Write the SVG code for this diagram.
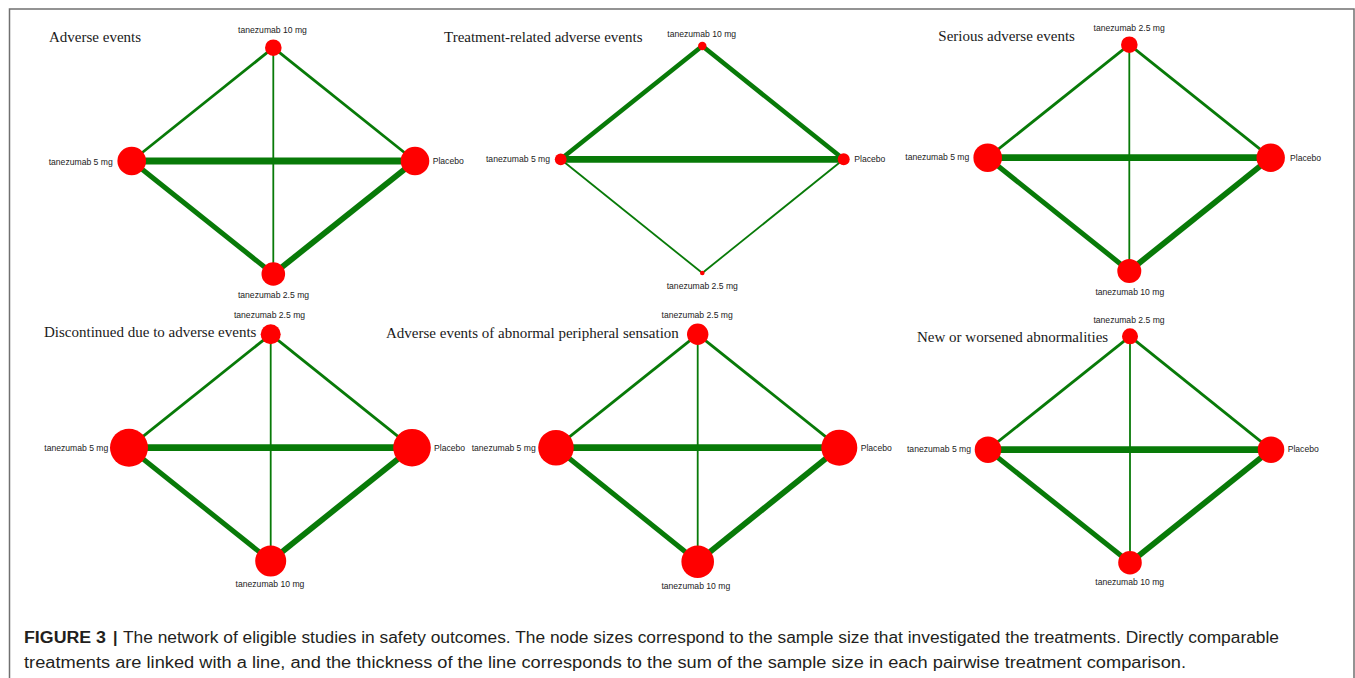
<svg xmlns="http://www.w3.org/2000/svg" width="1355" height="678" viewBox="0 0 1355 678">
<style>
.frame{fill:none;stroke:#707070;stroke-width:1.5}
.e{stroke:#087a08;fill:none;stroke-linecap:butt}
.w1{stroke-width:1.8}
.w2{stroke-width:2.8}
.w4{stroke-width:4.6}
.w5{stroke-width:5}
.w55{stroke-width:5.8}
.w6{stroke-width:6.8}
.n{fill:#ff0000}
.l{font-family:"Liberation Sans",Arial,sans-serif;font-size:8.6px;fill:#222}
.c{text-anchor:middle}
.r{text-anchor:end}
.t{font-family:"Liberation Serif","Times New Roman",serif;font-size:15px;fill:#1a1a1a}
.cap{font-family:"Liberation Sans",Arial,sans-serif;font-size:16px;fill:#231f20}
</style>
<rect width="1355" height="678" fill="#fff"/>
<path class="frame" d="M9.5,678 V9 H1354 V678"/>

<g id="connectors">
  <!-- Panel 1 -->
  <line class="e w2" x1="273.3" y1="47.7" x2="131.7" y2="161"/>
  <line class="e w2" x1="273.3" y1="47.7" x2="415" y2="161"/>
  <line class="e w1" x1="273.3" y1="47.7" x2="273.3" y2="274"/>
  <line class="e w6" x1="131.7" y1="161" x2="415" y2="161"/>
  <line class="e w5" x1="131.7" y1="161" x2="273.3" y2="274"/>
  <line class="e w55" x1="415" y1="161" x2="273.3" y2="274"/>
  <!-- Panel 2 -->
  <line class="e w4" x1="702.3" y1="46" x2="560.7" y2="159.3"/>
  <line class="e w4" x1="702.3" y1="46" x2="843.7" y2="159.3"/>
  <line class="e w6" x1="560.7" y1="159.3" x2="843.7" y2="159.3"/>
  <line class="e w1" x1="560.7" y1="159.3" x2="702.3" y2="273"/>
  <line class="e w1" x1="843.7" y1="159.3" x2="702.3" y2="273"/>
  <!-- Panel 3 -->
  <line class="e w2" x1="1129.3" y1="44.7" x2="987.7" y2="157.7"/>
  <line class="e w2" x1="1129.3" y1="44.7" x2="1270.7" y2="157.7"/>
  <line class="e w1" x1="1129.3" y1="44.7" x2="1129.3" y2="271"/>
  <line class="e w6" x1="987.7" y1="157.7" x2="1270.7" y2="157.7"/>
  <line class="e w5" x1="987.7" y1="157.7" x2="1129.3" y2="271"/>
  <line class="e w55" x1="1270.7" y1="157.7" x2="1129.3" y2="271"/>
  <!-- Panel 4 -->
  <line class="e w2" x1="270.7" y1="334.3" x2="129" y2="447.7"/>
  <line class="e w2" x1="270.7" y1="334.3" x2="412" y2="447.7"/>
  <line class="e w1" x1="270.7" y1="334.3" x2="270.7" y2="561"/>
  <line class="e w6" x1="129" y1="447.7" x2="412" y2="447.7"/>
  <line class="e w5" x1="129" y1="447.7" x2="270.7" y2="561"/>
  <line class="e w55" x1="412" y1="447.7" x2="270.7" y2="561"/>
  <!-- Panel 5 -->
  <line class="e w2" x1="697.7" y1="334.3" x2="556" y2="447.7"/>
  <line class="e w2" x1="697.7" y1="334.3" x2="839.3" y2="447.7"/>
  <line class="e w1" x1="697.7" y1="334.3" x2="697.7" y2="561.7"/>
  <line class="e w6" x1="556" y1="447.7" x2="839.3" y2="447.7"/>
  <line class="e w5" x1="556" y1="447.7" x2="697.7" y2="561.7"/>
  <line class="e w55" x1="839.3" y1="447.7" x2="697.7" y2="561.7"/>
  <!-- Panel 6 -->
  <line class="e w2" x1="1130" y1="336.3" x2="988" y2="449.7"/>
  <line class="e w2" x1="1130" y1="336.3" x2="1271" y2="449.7"/>
  <line class="e w1" x1="1130" y1="336.3" x2="1130" y2="562.7"/>
  <line class="e w6" x1="988" y1="449.7" x2="1271" y2="449.7"/>
  <line class="e w5" x1="988" y1="449.7" x2="1130" y2="562.7"/>
  <line class="e w55" x1="1271" y1="449.7" x2="1130" y2="562.7"/>
</g>

<!-- Panel 1: Adverse events -->
<text class="t" x="49" y="42">Adverse events</text>
<g id="p1-t10"><circle class="n" cx="273.3" cy="47.7" r="8.3"/><text class="l c" x="272.5" y="33.3">tanezumab 10 mg</text></g>
<g id="p1-t5"><circle class="n" cx="131.7" cy="161" r="14.3"/><text class="l r" x="112.7" y="164.5">tanezumab 5 mg</text></g>
<g id="p1-pl"><circle class="n" cx="415" cy="161" r="14.3"/><text class="l" x="432.7" y="164">Placebo</text></g>
<g id="p1-t25"><circle class="n" cx="273.3" cy="274" r="11.8"/><text class="l c" x="273.5" y="298.3">tanezumab 2.5 mg</text></g>

<!-- Panel 2: Treatment-related adverse events -->
<text class="t" x="444" y="42.3">Treatment-related adverse events</text>
<g id="p2-t10"><circle class="n" cx="702.3" cy="46" r="4.2"/><text class="l c" x="701.7" y="36.7">tanezumab 10 mg</text></g>
<g id="p2-t5"><circle class="n" cx="560.7" cy="159.3" r="5.9"/><text class="l r" x="550" y="162.3">tanezumab 5 mg</text></g>
<g id="p2-pl"><circle class="n" cx="843.7" cy="159.3" r="6"/><text class="l" x="854.3" y="161.5">Placebo</text></g>
<g id="p2-t25"><circle class="n" cx="702.3" cy="273" r="2.3"/><text class="l c" x="702.3" y="289">tanezumab 2.5 mg</text></g>

<!-- Panel 3: Serious adverse events -->
<text class="t" x="938.3" y="41.3">Serious adverse events</text>
<g id="p3-t25"><circle class="n" cx="1129.3" cy="44.7" r="8.3"/><text class="l c" x="1129.2" y="30.7">tanezumab 2.5 mg</text></g>
<g id="p3-t5"><circle class="n" cx="987.7" cy="157.7" r="14.3"/><text class="l r" x="969.3" y="160.3">tanezumab 5 mg</text></g>
<g id="p3-pl"><circle class="n" cx="1270.7" cy="157.7" r="14.2"/><text class="l" x="1290" y="160.7">Placebo</text></g>
<g id="p3-t10"><circle class="n" cx="1129.3" cy="271" r="12"/><text class="l c" x="1129.8" y="295.3">tanezumab 10 mg</text></g>

<!-- Panel 4: Discontinued due to adverse events -->
<text class="t" x="44" y="336.7">Discontinued due to adverse events</text>
<g id="p4-t25"><circle class="n" cx="270.7" cy="334.3" r="10"/><text class="l c" x="269.5" y="318">tanezumab 2.5 mg</text></g>
<g id="p4-t5"><circle class="n" cx="129" cy="447.7" r="19"/><text class="l r" x="108.3" y="450.7">tanezumab 5 mg</text></g>
<g id="p4-pl"><circle class="n" cx="412" cy="447.7" r="18.8"/><text class="l" x="434" y="450.7">Placebo</text></g>
<g id="p4-t10"><circle class="n" cx="270.7" cy="561" r="15.5"/><text class="l c" x="270" y="587.3">tanezumab 10 mg</text></g>

<!-- Panel 5: Adverse events of abnormal peripheral sensation -->
<text class="t" x="386" y="337.7">Adverse events of abnormal peripheral sensation</text>
<g id="p5-t25"><circle class="n" cx="697.7" cy="334.3" r="10.7"/><text class="l c" x="697.2" y="318.3">tanezumab 2.5 mg</text></g>
<g id="p5-t5"><circle class="n" cx="556" cy="447.7" r="17.8"/><text class="l r" x="535.7" y="450.5">tanezumab 5 mg</text></g>
<g id="p5-pl"><circle class="n" cx="839.3" cy="447.7" r="18"/><text class="l" x="860.7" y="450.7">Placebo</text></g>
<g id="p5-t10"><circle class="n" cx="697.7" cy="561.7" r="16.3"/><text class="l c" x="695.8" y="589">tanezumab 10 mg</text></g>

<!-- Panel 6: New or worsened abnormalities -->
<text class="t" x="917" y="341.7">New or worsened abnormalities</text>
<g id="p6-t25"><circle class="n" cx="1130" cy="336.3" r="8"/><text class="l c" x="1129" y="323.3">tanezumab 2.5 mg</text></g>
<g id="p6-t5"><circle class="n" cx="988" cy="449.7" r="13.3"/><text class="l r" x="971" y="452.3">tanezumab 5 mg</text></g>
<g id="p6-pl"><circle class="n" cx="1271" cy="449.7" r="13.3"/><text class="l" x="1287.7" y="452.3">Placebo</text></g>
<g id="p6-t10"><circle class="n" cx="1130" cy="562.7" r="11.8"/><text class="l c" x="1129.7" y="585">tanezumab 10 mg</text></g>

<!-- Caption -->
<text class="cap" x="24" y="643" font-weight="bold" textLength="82" lengthAdjust="spacingAndGlyphs">FIGURE 3</text>
<text class="cap" x="113" y="643" font-weight="bold">|</text>
<text class="cap" x="123" y="643" textLength="1156" lengthAdjust="spacingAndGlyphs">The network of eligible studies in safety outcomes. The node sizes correspond to the sample size that investigated the treatments. Directly comparable</text>
<text class="cap" x="24" y="668" textLength="1162" lengthAdjust="spacingAndGlyphs">treatments are linked with a line, and the thickness of the line corresponds to the sum of the sample size in each pairwise treatment comparison.</text>
</svg>
